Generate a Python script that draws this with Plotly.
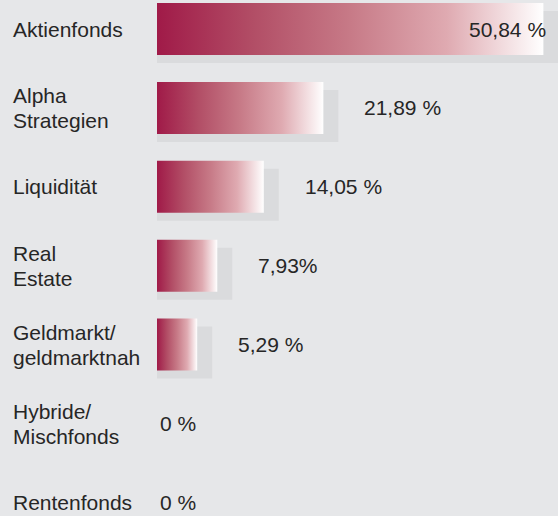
import plotly.graph_objects as go

# ---- data ----
categories = ["Aktienfonds", "Alpha<br>Strategien", "Liquidität", "Real<br>Estate",
              "Geldmarkt/<br>geldmarktnah", "Hybride/<br>Mischfonds", "Rentenfonds"]
values = [50.84, 21.89, 14.05, 7.93, 5.29, 0, 0]
value_labels = ["50,84 %", "21,89 %", "14,05 %", "7,93%", "5,29 %", "0 %", "0 %"]

# ---- layout constants ----
W, H = 558, 516
PX_PER_UNIT = 7.6          # pixels per percent
X0_PX = 157                # pixel position of 0 %
ROW0_PX = 29               # pixel centre of first row
ROW_PX = 78.9              # row spacing in pixels
BAR_PX = 52                # bar thickness
SH_DX, SH_DY = 15, 8       # shadow offset in px

BG = "#e6e7e9"
SHADOW = "#dadbdd"
TEXT = "#262626"
FONT = "Liberation Sans"
FS = 21

gradient = [[0, "#a01a48"], [0.25, "#b24e66"], [0.5, "#c77a87"],
            [0.75, "#dfaab1"], [1, "#ffffff"]]

xr = [-X0_PX / PX_PER_UNIT, (W - X0_PX) / PX_PER_UNIT]
yr = [(H - ROW0_PX) / ROW_PX, -ROW0_PX / ROW_PX]
half = BAR_PX / ROW_PX / 2
sdx = SH_DX / PX_PER_UNIT
sdy = SH_DY / ROW_PX

fig = go.Figure()

# shadows
for i, v in enumerate(values):
    if v <= 0:
        continue
    xs = [0, v + sdx, v + sdx, 0, 0]
    ys = [i - half + sdy, i - half + sdy, i + half + sdy, i + half + sdy, i - half + sdy]
    fig.add_trace(go.Scatter(x=xs, y=ys, mode="lines", fill="toself",
                             fillcolor=SHADOW, line=dict(width=0),
                             hoverinfo="skip", showlegend=False))

# gradient bars
for i, v in enumerate(values):
    if v <= 0:
        continue
    xs = [0, v, v, 0, 0]
    ys = [i - half, i - half, i + half, i + half, i - half]
    fig.add_trace(go.Scatter(x=xs, y=ys, mode="lines", fill="toself",
                             fillgradient=dict(type="horizontal", colorscale=gradient,
                                               start=0, stop=v),
                             line=dict(width=0), hoverinfo="skip", showlegend=False,
                             name=categories[i].replace("<br>", " ")))

annotations = []
LINE_PX = 25
for i, cat in enumerate(categories):
    lines = cat.split("<br>")
    n = len(lines)
    for k, ln in enumerate(lines):
        shift = ((n - 1) / 2 - k) * LINE_PX
        annotations.append(dict(x=11 / W, xref="paper", y=i, yref="y", text=ln,
                                xanchor="left", yanchor="middle", yshift=shift,
                                showarrow=False, font=dict(family=FONT, size=FS, color=TEXT)))

for i, (v, lab) in enumerate(zip(values, value_labels)):
    if v == 0:
        a = dict(x=0, xanchor="left", xshift=1)
    elif v > 40:
        a = dict(x=v, xanchor="right", xshift=5)
    else:
        a = dict(x=v, xanchor="left", xshift=39)
    a.update(y=i, xref="x", yref="y", yanchor="middle", text=lab, showarrow=False,
             font=dict(family=FONT, size=FS, color=TEXT))
    annotations.append(a)

fig.update_layout(
    width=W, height=H,
    margin=dict(l=0, r=0, t=0, b=0),
    paper_bgcolor=BG, plot_bgcolor=BG,
    xaxis=dict(range=xr, visible=False, fixedrange=True),
    yaxis=dict(range=yr, visible=False, fixedrange=True),
    annotations=annotations,
    showlegend=False,
)

fig.write_html("out.html", config={"displayModeBar": False},
               post_script="document.body.style.margin='0';document.body.style.background='%s';" % BG)
